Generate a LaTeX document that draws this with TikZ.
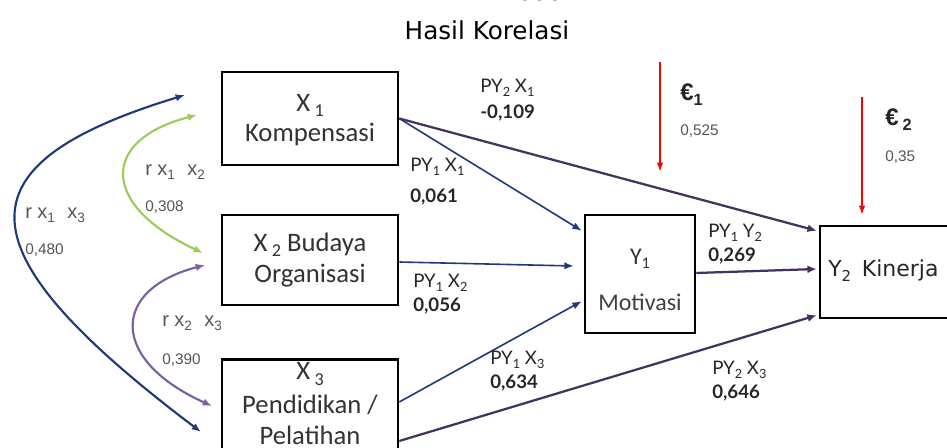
\documentclass[tikz,border=0pt]{standalone}
\usepackage{fontspec}
\setmainfont{Liberation Sans}
\newfontfamily\boxfont{Carlito}
\newfontfamily\labfont{Lato}
\newfontfamily\titfont{DejaVu Sans}
\usetikzlibrary{arrows.meta,calc}
\definecolor{navy}{HTML}{1F3A7A}
\definecolor{lgreen}{HTML}{9BCB5B}
\definecolor{lpurple}{HTML}{7B5FA0}
\definecolor{dpurple}{HTML}{45325F}
\definecolor{txtgray}{HTML}{555555}
\newcommand{\lsub}[1]{\raisebox{-0.4ex}{\scalebox{0.68}{#1}}}
\tikzset{
  box/.style={draw=black, line width=1.9pt, fill=white, inner sep=0pt,
    font=\boxfont\fontsize{20}{24}\selectfont, text=black!80, align=center},
  boxtext/.style={font=\boxfont\fontsize{20}{24}\selectfont, text=black!80, align=center, inner sep=0pt},
  pathb/.style={draw=navy, line width=1.2pt, -{Latex[length=7pt,width=5.5pt]}},
  pathp/.style={draw=dpurple, line width=1.7pt, -{Latex[length=7pt,width=6pt]}},
  corr/.style={line width=1.6pt, {Latex[length=7pt,width=5.5pt]}-{Latex[length=7pt,width=5.5pt]}},
  errarrow/.style={draw=red, line width=1.5pt, -{Latex[length=7pt,width=5pt]}},
  lab/.style={font=\labfont\fontsize{14}{16}\selectfont, text=black!85, anchor=west, inner sep=0pt},
  labv/.style={font=\labfont\bfseries\fontsize{14}{16}\selectfont, text=black!85, anchor=west, inner sep=0pt},
  rlab/.style={font=\fontsize{15}{17}\selectfont, text=txtgray, anchor=west, inner sep=0pt},
  small/.style={font=\fontsize{11.5}{13}\selectfont, text=txtgray, anchor=west, inner sep=0pt},
  epslab/.style={font=\fontsize{18}{20}\selectfont\bfseries, text=black!85, anchor=west, inner sep=0pt},
}
\begin{document}
\begin{tikzpicture}[x=0.75pt,y=-0.75pt]
\useasboundingbox (0,0) rectangle (947,448);
\clip (0,0) rectangle (947,448);

% title
\node[font=\titfont\fontsize{18.5}{22}\selectfont, anchor=base east, inner sep=0pt] (cut) at (572,1) {daa.};
\node[font=\titfont\fontsize{18.5}{22}\selectfont] (title) at (487,30) {Hasil Korelasi};

% boxes
\node[box, minimum width=132pt, minimum height=70pt] (X1) at (310,118.5) {};
\node[boxtext] (X1a) at (310,105) {X\,\lsub{1}};
\node[boxtext] (X1b) at (310,134) {Kompensasi};
\node[box, minimum width=132pt, minimum height=67.5pt] (X2) at (310,260) {};
\node[boxtext] (X2a) at (310,245) {X\,\lsub{2} Budaya};
\node[boxtext] (X2b) at (310,276) {Organisasi};
\node[box, minimum width=132pt, minimum height=106pt, anchor=north] (X3) at (310,358) {};
\node[boxtext] (X3a) at (310,374) {X\,\lsub{3}};
\node[boxtext] (X3b) at (310,405) {Pendidikan /};
\node[boxtext] (X3c) at (310,435) {Pelatihan};
\node[box, minimum width=82.5pt, minimum height=88.5pt] (Y1) at (640,274) {};
\node[font=\boxfont\fontsize{18}{20}\selectfont, text=black!80, inner sep=0pt] (Y1a) at (640,259) {Y\lsub{1}};
\node[font=\boxfont\fontsize{18}{20}\selectfont, text=black!75, inner sep=0pt] (Y1b) at (640,302) {Motivasi};
\node[box, minimum width=127.5pt, minimum height=69pt] (Y2) at (905,272) {};
\node[font=\titfont\fontsize{16.5}{19}\selectfont, text=black!85, anchor=west, inner sep=0pt] (Y2t) at (828,271) {Y\lsub{2}\, Kinerja};

% path arrows
\draw[pathb] (X1.east) -- ($(Y1.north west)+(-2,17)$);
\draw[pathb] ($(X2.east)+(0,2)$) -- ($(Y1.west)+(-10,-8)$);
\draw[pathb] ($(X3.north east)+(0,44)$) -- ($(Y1.south west)+(-2,-33)$);
\draw[pathp] (X1.east) -- ($(Y2.north west)+(-2,6)$);
\draw[pathp] ($(Y1.east)+(0,-1)$) -- ($(Y2.west)+(-2,-3)$);
\draw[pathp] ($(X3.north east)+(0,83)$) -- ($(Y2.south west)+(-2,-4)$);

% error arrows
\coordinate (e1) at (660,62);
\coordinate (e2) at (862,97);
\draw[errarrow] (e1) -- ($(e1)+(0,110)$);
\draw[errarrow] (e2) -- ($(e2)+(0,118)$);

% correlation curves
\coordinate (a13) at (185,95);
\coordinate (b13) at (201,432);
\coordinate (a12) at (197,115);
\coordinate (b12) at (203,253);
\coordinate (a23) at (205,265);
\coordinate (b23) at (212,406);
\draw[corr, navy] (a13) .. controls (-45,165) and (-40,250) .. (b13);
\draw[corr, lgreen] (a12) .. controls (100,140) and (100,205) .. (b12);
\draw[corr, lpurple] (a23) .. controls (110,290) and (110,360) .. (b23);

% labels
\node[rlab] (r13) at (25,215) {r x\lsub{1}\, \,x\lsub{3}};
\node[small] (v13) at (25,250) {0,480};
\node[rlab] (r12) at (145,172) {r x\lsub{1}\, \,x\lsub{2}};
\node[small] (v12) at (145,207) {0,308};
\node[rlab] (r23) at (162,323) {r x\lsub{2}\, \,x\lsub{3}};
\node[small] (v23) at (162,360) {0,390};

\node[lab] (l21) at (480,88) {PY\lsub{2} X\lsub{1}};
\node[labv] (n21) at (480,113) {-0,109};
\node[lab] (l11) at (410,167) {PY\lsub{1} X\lsub{1}};
\node[labv] (n11) at (410,197) {0,061};
\node[lab] (l12) at (413,283) {PY\lsub{1} X\lsub{2}};
\node[labv] (n12) at (413,306) {0,056};
\node[lab] (l13) at (490,360) {PY\lsub{1} X\lsub{3}};
\node[labv] (n13) at (490,383) {0,634};
\node[lab] (ly) at (708,233) {PY\lsub{1} Y\lsub{2}};
\node[labv] (ny) at (708,256) {0,269};
\node[lab] (l23) at (712,370) {PY\lsub{2} X\lsub{3}};
\node[labv] (n23) at (712,393) {0,646};

\node[epslab] (eps1) at (680,95) {€\lsub{1}};
\node[small] (ev1) at (680,131) {0,525};
\node[epslab] (eps2) at (885,120) {€\,\lsub{2}};
\node[small] (ev2) at (885,157) {0,35};
\end{tikzpicture}
\end{document}
